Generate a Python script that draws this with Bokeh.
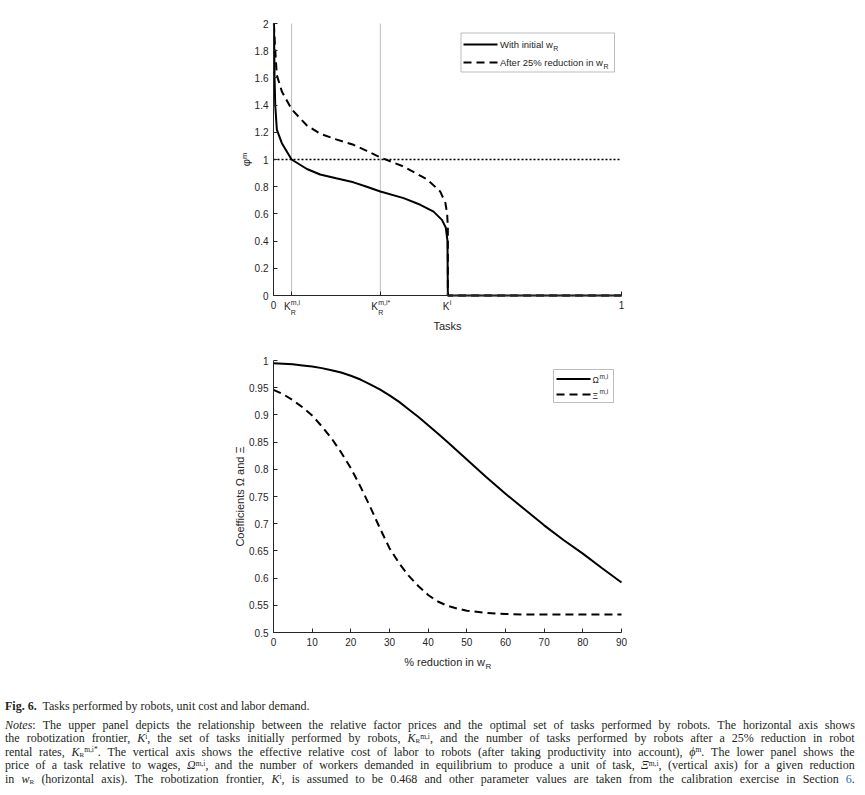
from bokeh.plotting import figure
from bokeh.models import Label, BoxAnnotation, FixedTicker, Div, Range1d
from bokeh.layouts import column
from bokeh.embed import file_html
from bokeh.resources import INLINE

# ---------------- upper panel data ----------------
tasks_initial = [0.0015, 0.002, 0.003, 0.005, 0.0096, 0.024, 0.052, 0.096, 0.134, 0.18, 0.23,
                 0.268, 0.307, 0.374, 0.422, 0.46, 0.484, 0.495, 0.5, 0.501, 1.0]
phi_initial = [2.0, 1.85, 1.6, 1.4, 1.22, 1.12, 1.0, 0.93, 0.89, 0.862, 0.832,
               0.8, 0.765, 0.716, 0.667, 0.617, 0.556, 0.5, 0.4, 0.0, 0.0]

tasks_reduced = [0.001, 0.003, 0.007, 0.0096, 0.024, 0.052, 0.096, 0.134, 0.18, 0.23, 0.268,
                 0.307, 0.374, 0.441, 0.479, 0.494, 0.499, 0.501, 0.501, 1.0]
phi_reduced = [2.0, 1.9, 1.72, 1.62, 1.5, 1.37, 1.25, 1.19, 1.148, 1.108, 1.063,
               1.015, 0.948, 0.855, 0.765, 0.68, 0.6, 0.5, 0.0, 0.0]

k_ticks = [0.052, 0.307, 0.5]          # K_R^{m,i}, K_R^{m,i*}, K^i
k_sup = ["m,i", "m,i*", "i"]
k_sub = ["R", "R", ""]
k_gray = [0.052, 0.307]                # thin vertical reference lines
upper_xticks = [0, 1]
upper_xlabels = ["0", "1"]
upper_yticks = [0, 0.2, 0.4, 0.6, 0.8, 1, 1.2, 1.4, 1.6, 1.8, 2]
upper_ylabels = ["0", "0.2", "0.4", "0.6", "0.8", "1", "1.2", "1.4", "1.6", "1.8", "2"]
phi_threshold = 1.0

# ---------------- lower panel data ----------------
pct_reduction = [0, 2.5, 5, 7.5, 10, 12.5, 15, 17.5, 20, 22.5, 25, 27.5, 30, 32.5, 35, 37.5,
                 40, 42.5, 45, 47.5, 50, 55, 60, 65, 70, 75, 80, 85, 90]
omega = [0.995, 0.994, 0.993, 0.991, 0.989, 0.986, 0.982, 0.978, 0.972, 0.965, 0.956, 0.947,
         0.936, 0.924, 0.91, 0.896, 0.881, 0.866, 0.85, 0.834, 0.818, 0.786, 0.755, 0.726,
         0.697, 0.67, 0.645, 0.618, 0.592]
xi = [0.946, 0.938, 0.927, 0.914, 0.899, 0.879, 0.857, 0.831, 0.802, 0.768, 0.731, 0.692,
      0.655, 0.627, 0.604, 0.585, 0.569, 0.557, 0.549, 0.544, 0.54, 0.536, 0.534, 0.533,
      0.533, 0.533, 0.533, 0.533, 0.533]
lower_xticks = [0, 10, 20, 30, 40, 50, 60, 70, 80, 90]
lower_yticks = [0.5, 0.55, 0.6, 0.65, 0.7, 0.75, 0.8, 0.85, 0.9, 0.95, 1]
lower_ylabels = ["0.5", "0.55", "0.6", "0.65", "0.7", "0.75", "0.8", "0.85", "0.9", "0.95", "1"]

FONT = "Liberation Sans"
AX = "#262626"
DASH = "8 5"
W = 865


def style(p):
    p.outline_line_color = None
    p.grid.visible = False
    p.background_fill_color = "white"
    p.border_fill_color = "white"
    for ax in p.axis:
        ax.axis_line_color = AX
        ax.axis_line_width = 1
        ax.major_tick_line_color = AX
        ax.major_tick_in = 4
        ax.major_tick_out = 0
        ax.minor_tick_line_color = None
        ax.major_label_text_font = FONT
        ax.major_label_text_font_size = "10px"
        ax.major_label_text_color = AX
        ax.major_label_standoff = 5
        ax.axis_label_text_font = FONT
        ax.axis_label_text_font_size = "11px"
        ax.axis_label_text_font_style = "normal"
        ax.axis_label_text_color = AX


class Geo:
    """pixel geometry of a panel (figure-local pixels) -> data mapping"""
    def __init__(self, x_lo, x_hi, px_lo, px_hi, y_lo, y_hi, py_lo, py_hi):
        self.sx = (px_hi - px_lo) / (x_hi - x_lo)
        self.sy = (py_lo - py_hi) / (y_hi - y_lo)
        self.x_lo, self.px_lo, self.y_lo, self.py_lo = x_lo, px_lo, y_lo, py_lo

    def x(self, px):
        return self.x_lo + (px - self.px_lo) / self.sx

    def y(self, py):
        return self.y_lo + (self.py_lo - py) / self.sy


# ================= upper panel =================
H1 = 340
FL, FR, FT1, FB1 = 222, 648, 10, 340
g1 = Geo(0, 1, 273, 621, 0, 2, 295, 23)
p1 = figure(width=W, height=H1,
            x_range=Range1d(g1.x(FL), g1.x(FR)), y_range=Range1d(g1.y(FB1), g1.y(FT1)),
            output_backend="svg", toolbar_location=None,
            min_border_left=FL, min_border_right=W - FR, min_border_top=FT1,
            min_border_bottom=H1 - FB1)
style(p1)
p1.xaxis.fixed_location = 0
p1.xaxis.bounds = (0, 1)
p1.yaxis.fixed_location = 0
p1.yaxis.bounds = (0, 2)

p1.xaxis.ticker = FixedTicker(ticks=upper_xticks + k_ticks)
ov = {t: l for t, l in zip(upper_xticks, upper_xlabels)}
ov.update({k: "" for k in k_ticks})
p1.xaxis.major_label_overrides = ov
p1.yaxis.ticker = FixedTicker(ticks=upper_yticks)
p1.yaxis.major_label_overrides = {t: l for t, l in zip(upper_yticks, upper_ylabels)}
p1.xaxis.axis_label = "Tasks"
p1.xaxis.axis_label_standoff = 8
p1.yaxis.axis_label = "\u03c6\u1d50"
p1.yaxis.axis_label_standoff = 0

p1.segment(x0=k_gray, y0=[0] * len(k_gray), x1=k_gray, y1=[2] * len(k_gray),
           line_color="#bdbdbd", line_width=1)
p1.line(tasks_initial, phi_initial, line_color="black", line_width=2)
p1.line(tasks_reduced, phi_reduced, line_color="black", line_width=2, line_dash=DASH)
p1.segment(x0=[0], y0=[phi_threshold], x1=[1], y1=[phi_threshold], line_color="black",
           line_width=1.6, line_dash="2 2")

# custom tick labels K_R^{m,i}, K_R^{m,i*}, K^i
for k, sup_t, sub_t in zip(k_ticks, k_sup, k_sub):
    k_w = 6.6
    s_w = max(len(sup_t) * 2.9, len(sub_t) * 5.0)
    total = k_w + s_w
    k_right = -total / 2 + k_w
    p1.add_layout(Label(x=k, y=g1.y(306), text="K", text_align="right", text_baseline="middle",
                        x_offset=k_right, text_font=FONT, text_font_size="10px",
                        text_color=AX))
    p1.add_layout(Label(x=k, y=g1.y(302), text=sup_t, text_align="left",
                        text_baseline="middle", x_offset=k_right + 0.3, text_font=FONT,
                        text_font_size="7px", text_color=AX))
    if sub_t:
        p1.add_layout(Label(x=k, y=g1.y(311.5), text=sub_t, text_align="left",
                            text_baseline="middle", x_offset=k_right + 0.3, text_font=FONT,
                            text_font_size="7px", text_color=AX))

# legend (upper)
p1.add_layout(BoxAnnotation(left=g1.x(460.5), right=g1.x(614), top=g1.y(32.5),
                            bottom=g1.y(71.5), fill_alpha=0, line_color=AX, line_width=1,
                            level="underlay"))
rows1 = [44.0, 62.0]
texts1 = [("With initial w", 52.8), ("After 25% reduction in w", 103.0)]
for ry, (txt, wpx), dsh in zip(rows1, texts1, [None, DASH]):
    kw = dict(line_color="black", line_width=2)
    if dsh:
        kw["line_dash"] = dsh
    p1.line([g1.x(463), g1.x(497)], [g1.y(ry), g1.y(ry)], **kw)
    p1.add_layout(Label(x=g1.x(499.5), y=g1.y(ry), text=txt, text_align="left",
                        text_baseline="middle", text_font=FONT, text_font_size="9.5px",
                        text_color=AX))
    p1.add_layout(Label(x=g1.x(499.5), y=g1.y(ry + 3.5), text="R", text_align="left",
                        text_baseline="middle", x_offset=wpx + 0.5, text_font=FONT,
                        text_font_size="7px", text_color=AX))

# ================= lower panel =================
H2 = 335
TOP2 = H1  # page y of the lower figure's top
FT2, FB2 = 8, 335
g2 = Geo(0, 90, 273, 621, 0.5, 1.0, 632 - TOP2, 360 - TOP2)
p2 = figure(width=W, height=H2,
            x_range=Range1d(g2.x(FL), g2.x(FR)), y_range=Range1d(g2.y(FB2), g2.y(FT2)),
            output_backend="svg", toolbar_location=None,
            min_border_left=FL, min_border_right=W - FR, min_border_top=FT2,
            min_border_bottom=H2 - FB2)
style(p2)
p2.xaxis.fixed_location = 0.5
p2.xaxis.bounds = (0, 90)
p2.yaxis.fixed_location = 0
p2.yaxis.bounds = (0.5, 1)

p2.xaxis.ticker = FixedTicker(ticks=lower_xticks)
p2.yaxis.ticker = FixedTicker(ticks=lower_yticks)
p2.yaxis.major_label_overrides = {t: l for t, l in zip(lower_yticks, lower_ylabels)}
p2.yaxis.axis_label = "Coefficients \u03a9 and \u039e"
p2.yaxis.axis_label_standoff = 0

p2.line(pct_reduction, omega, line_color="black", line_width=2)
p2.line(pct_reduction, xi, line_color="black", line_width=2, line_dash=DASH)

# x axis label "% reduction in w_R"
p2.add_layout(Label(x=45, y=g2.y(661 - TOP2), text="% reduction in w", text_align="right",
                    text_baseline="middle", x_offset=37.4, text_font=FONT,
                    text_font_size="11px", text_color=AX))
p2.add_layout(Label(x=45, y=g2.y(665.5 - TOP2), text="R", text_align="left",
                    text_baseline="middle", x_offset=38.0, text_font=FONT,
                    text_font_size="8px", text_color=AX))

# legend (lower)
p2.add_layout(BoxAnnotation(left=g2.x(553), right=g2.x(613), top=g2.y(369 - TOP2),
                            bottom=g2.y(402 - TOP2), fill_alpha=0, line_color=AX,
                            line_width=1, level="underlay"))
rows2 = [378.5, 394.0]
syms2 = ["\u03a9", "\u039e"]
for ry, sym, dsh in zip(rows2, syms2, [None, DASH]):
    kw = dict(line_color="black", line_width=2)
    if dsh:
        kw["line_dash"] = dsh
    yy = ry - TOP2
    p2.line([g2.x(556), g2.x(590)], [g2.y(yy), g2.y(yy)], **kw)
    p2.add_layout(Label(x=g2.x(592), y=g2.y(yy + 1), text=sym, text_align="left",
                        text_baseline="middle", text_font=FONT, text_font_size="8.5px",
                        text_color=AX))
    p2.add_layout(Label(x=g2.x(592), y=g2.y(yy - 3), text="m,i", text_align="left",
                        text_baseline="middle", x_offset=7.0, text_font=FONT,
                        text_font_size="6.5px", text_color=AX))

# ================= caption =================
def sup(s):
    return "<span style='font-size:7.5px;position:relative;top:-3.5px'>" + s + "</span>"


def sub(s):
    return "<span style='font-size:7px;position:relative;top:1px'>" + s + "</span>"


def kr(s):
    return "<i>K</i>" + sub("R") + sup(s)


MATH = {
    "{Ki}": "<i>K</i>" + sup("i"),
    "{KRmis}": kr("m,i*"),
    "{KRmi}": kr("m,i"),
    "{phim}": "<i>\u03d5</i>" + sup("m"),
    "{Om}": "<i>\u03a9</i>" + sup("m,i"),
    "{Xi}": "<i>\u039e</i>" + sup("m,i"),
    "{wR}": "<i>w</i>" + sub("R"),
    "{Notes}": "<i>Notes</i>",
    "{sec}": "<span style='color:#2a6ebb'>6</span>",
}
caption_lines = [
    "{Notes}: The upper panel depicts the relationship between the relative factor prices and the optimal set of tasks performed by robots. The horizontal axis shows",
    "the robotization frontier, {Ki}, the set of tasks initially performed by robots, {KRmi}, and the number of tasks performed by robots after a 25% reduction in robot",
    "rental rates, {KRmis}. The vertical axis shows the effective relative cost of labor to robots (after taking productivity into account), {phim}. The lower panel shows the",
    "price of a task relative to wages, {Om}, and the number of workers demanded in equilibrium to produce a unit of task, {Xi}, (vertical axis) for a given reduction",
    "in {wR} (horizontal axis). The robotization frontier, {Ki}, is assumed to be 0.468 and other parameter values are taken from the calibration exercise in Section {sec}.",
]


def render(word):
    for key, val in MATH.items():
        word = word.replace(key, val)
    return "<span>" + word + "</span>"


body = ("<div style='line-height:13.5px;height:13.5px;margin-bottom:5px;white-space:nowrap'>"
        "<b>Fig. 6.</b>&nbsp; Tasks performed by robots, unit cost and labor demand.</div>")
for ln in caption_lines:
    words = "".join(render(w) for w in ln.split(" "))
    body += ("<div style='display:flex;justify-content:space-between;flex-wrap:nowrap;"
             "white-space:nowrap;line-height:13.6px;height:13.6px'>" + words + "</div>")
html = ("<div style=\"font-family:'Liberation Serif',serif;font-size:12px;color:#231f20;"
        "width:855px;padding-top:25px;padding-left:5px\">" + body + "</div>")
cap = Div(text=html, width=W, height=115, margin=0)

layout = column(p1, p2, cap, spacing=0)
open("out.html", "w").write(file_html(layout, INLINE))
